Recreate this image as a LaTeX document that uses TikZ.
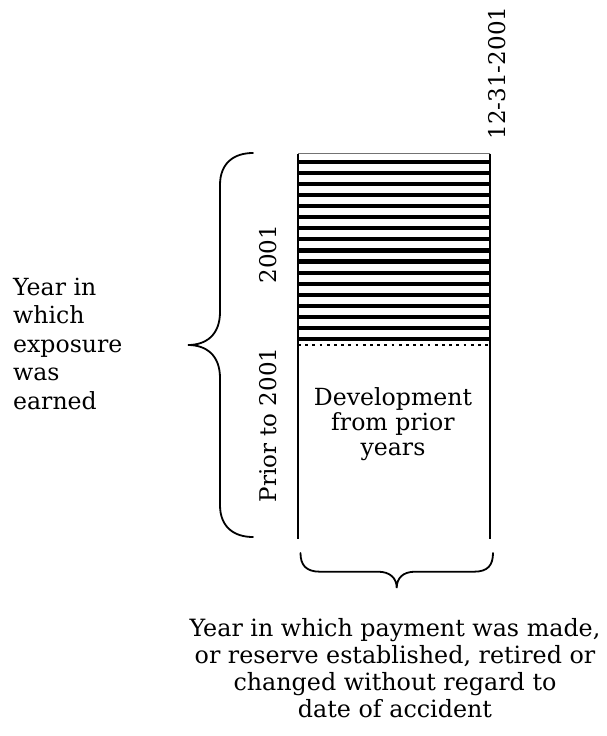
\documentclass[tikz,border=0pt]{standalone}
\usepackage{fontspec}
\setmainfont{DejaVu Serif}
\begin{document}
\begin{tikzpicture}[x=1pt,y=-1pt,
  lbl/.style={inner sep=0pt, font=\fontsize{23}{28}\selectfont},
  bracepath/.style={line width=1.8pt, line cap=round},
  boxside/.style={line width=2pt},
  stripe/.style={fill=black},
  divider/.style={line width=2.8pt, dash pattern=on 2.8pt off 4.4pt}
  ]
\useasboundingbox (0,0) rectangle (607,736);
% box corners
\coordinate (tl) at (298,153.5);
\coordinate (tr) at (490,153.5);
\coordinate (bl) at (298,539);
\coordinate (br) at (490,539);
\coordinate (dl) at (298,345);
\coordinate (dr) at (490,345);
% stripes of 2001
\foreach \k in {0,...,16}
  \fill[stripe] (298,{159.8+11.07*\k}) rectangle (490,{164+11.07*\k});
\draw[line width=0.6pt, black!55] (tl) -- (tr);
\draw[divider] (dl) -- (dr);
\draw[boxside] (tl) -- (bl);
\draw[boxside] (tr) -- (br);
% labels
\node[lbl, rotate=90] (date) at (497.5,73) {12-31-2001};
\node[lbl, rotate=90] (y2001) at (268.5,254) {2001};
\node[lbl, rotate=90] (prior) at (268.5,425) {Prior to 2001};
\node[lbl, align=left, anchor=base west, font=\fontsize{23.6}{28.5}\selectfont] (earned) at (13,409)
  {Year in\\which\\exposure\\was\\earned};
\node[lbl, align=center, anchor=base, font=\fontsize{23.6}{25}\selectfont] (dev) at (393,455)
  {Development\\from prior\\years};
\node[lbl, align=center, anchor=base, font=\fontsize{23.8}{27}\selectfont] (pay) at (395,717)
  {Year in which payment was made,\\or reserve established, retired or\\changed without regard to\\date of accident};
% braces
\draw[bracepath] (253,153) .. controls (234,153) and (220,163) .. (220,185) -- (220,312)
  .. controls (220,335) and (206,345) .. (188,345)
  .. controls (206,345) and (220,355) .. (220,378) -- (220,505)
  .. controls (220,527) and (234,537) .. (253,537);
\draw[bracepath] (300.5,553) .. controls (300.5,565) and (306,571.7) .. (320,571.7) -- (378,571.7)
  .. controls (390,571.7) and (396.7,578) .. (396.7,588)
  .. controls (396.7,578) and (403,571.7) .. (415,571.7) -- (474,571.7)
  .. controls (488,571.7) and (493,565) .. (493,553);
\end{tikzpicture}
\end{document}
